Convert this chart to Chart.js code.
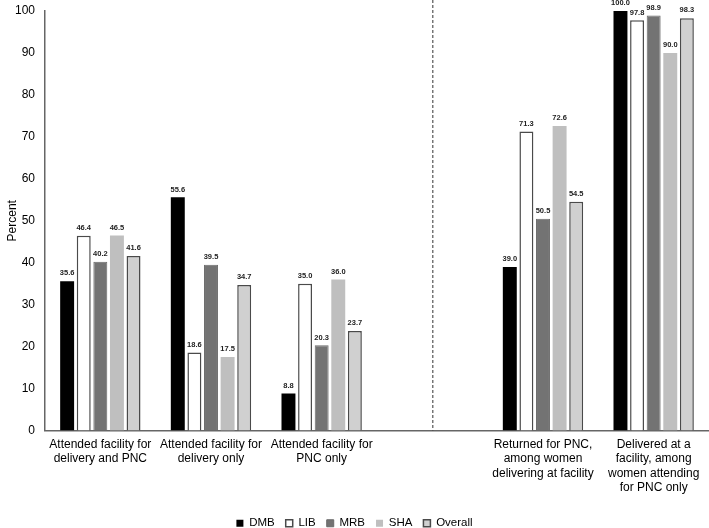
<!DOCTYPE html>
<html lang="en">
<head>
  <meta charset="UTF-8" />
  <title>Facility attendance by site</title>
  <script src="https://cdn.jsdelivr.net/npm/chart.js"></script>
  <style>
    * { box-sizing: border-box; margin: 0; padding: 0; }
    body { background: #fff; width: 709px; height: 528px; overflow: hidden; }
    canvas { display: block; }
  </style>
</head>
<body>
  <canvas id="barChart" width="709" height="528"></canvas>

  <script>
    const categories = [
      ['Attended facility for', 'delivery and PNC'],
      ['Attended facility for', 'delivery only'],
      ['Attended facility for', 'PNC only'],
      '',
      ['Returned for PNC,', 'among women', 'delivering at facility'],
      ['Delivered at a', 'facility, among', 'women attending', 'for PNC only']
    ];
    const dmb = [35.6, 55.6, 8.8, null, 39.0, 100.0];
    const lib = [46.4, 18.6, 35.0, null, 71.3, 97.8];
    const mrb = [40.2, 39.5, 20.3, null, 50.5, 98.9];
    const sha = [46.5, 17.5, 36.0, null, 72.6, 90.0];
    const overall = [41.6, 34.7, 23.7, null, 54.5, 98.3];
    const yTicks = [0, 10, 20, 30, 40, 50, 60, 70, 80, 90, 100];
    const dividerIndex = 3;

    const font = "'Liberation Sans', Arial, sans-serif";

    // value labels above each bar
    const barLabels = {
      id: 'barLabels',
      afterDatasetsDraw(chart) {
        const ctx = chart.ctx;
        ctx.save();
        ctx.font = 'bold 7.5px ' + font;
        ctx.fillStyle = '#222';
        ctx.textAlign = 'center';
        ctx.textBaseline = 'bottom';
        chart.data.datasets.forEach((ds, i) => {
          chart.getDatasetMeta(i).data.forEach((bar, j) => {
            const v = ds.data[j];
            if (v === null) return;
            ctx.fillText(v.toFixed(1), bar.x, bar.y - 4);
          });
        });
        ctx.restore();
      }
    };

    // dashed vertical separator in the empty slot
    const divider = {
      id: 'divider',
      afterDraw(chart) {
        const x = chart.scales.x.getPixelForValue(dividerIndex);
        const ctx = chart.ctx;
        ctx.save();
        ctx.strokeStyle = '#333';
        ctx.lineWidth = 1;
        ctx.setLineDash([3, 2]);
        ctx.beginPath();
        ctx.moveTo(x + 0.5, 0);
        ctx.lineTo(x + 0.5, chart.chartArea.bottom);
        ctx.stroke();
        ctx.restore();
      }
    };

    const mk = (label, data, bg, border, bw) => ({
      label, data,
      backgroundColor: bg,
      borderColor: border,
      borderWidth: bw,
      barPercentage: 0.84,
      categoryPercentage: 0.75
    });

    new Chart(document.getElementById('barChart'), {
      type: 'bar',
      data: {
        labels: categories,
        datasets: [
          mk('DMB', dmb, '#000000', '#000000', 0),
          mk('LIB', lib, '#ffffff', '#4a4a4a', 1.5),
          mk('MRB', mrb, '#737373', '#6a6a6a', 1),
          mk('SHA', sha, '#bfbfbf', '#bfbfbf', 0),
          mk('Overall', overall, '#d0d0d0', '#4a4a4a', 1.5)
        ]
      },
      options: {
        responsive: false,
        animation: false,
        devicePixelRatio: 1,
        layout: { padding: { top: 11, right: 0, left: 0, bottom: -11 } },
        plugins: {
          legend: {
            position: 'bottom',
            labels: {
              color: '#000',
              font: { family: font, size: 11.5 },
              boxWidth: 7,
              boxHeight: 7,
              padding: 11
            }
          },
          tooltip: { enabled: false }
        },
        scales: {
          x: {
            offset: true,
            grid: { display: false, drawTicks: false },
            border: { color: '#666', width: 1.5 },
            ticks: {
              color: '#000',
              font: { family: font, size: 12, lineHeight: 1.2 },
              maxRotation: 0,
              autoSkip: false,
              padding: 7
            },
            afterFit(scale) { scale.height = 76; }
          },
          y: {
            min: 0,
            max: 100,
            afterBuildTicks(scale) { scale.ticks = yTicks.map(v => ({ value: v })); },
            grid: { display: false, drawTicks: false },
            border: { color: '#666', width: 1.5 },
            ticks: {
              color: '#000',
              font: { family: font, size: 12 },
              padding: 10
            },
            title: {
              display: true,
              text: 'Percent',
              color: '#000',
              font: { family: font, size: 12 },
              padding: { top: 5, bottom: 0 }
            },
            afterFit(scale) {
              scale.width = 45;
              scale.paddingTop = 0;
            }
          }
        }
      },
      plugins: [barLabels, divider]
    });
  </script>
</body>
</html>
